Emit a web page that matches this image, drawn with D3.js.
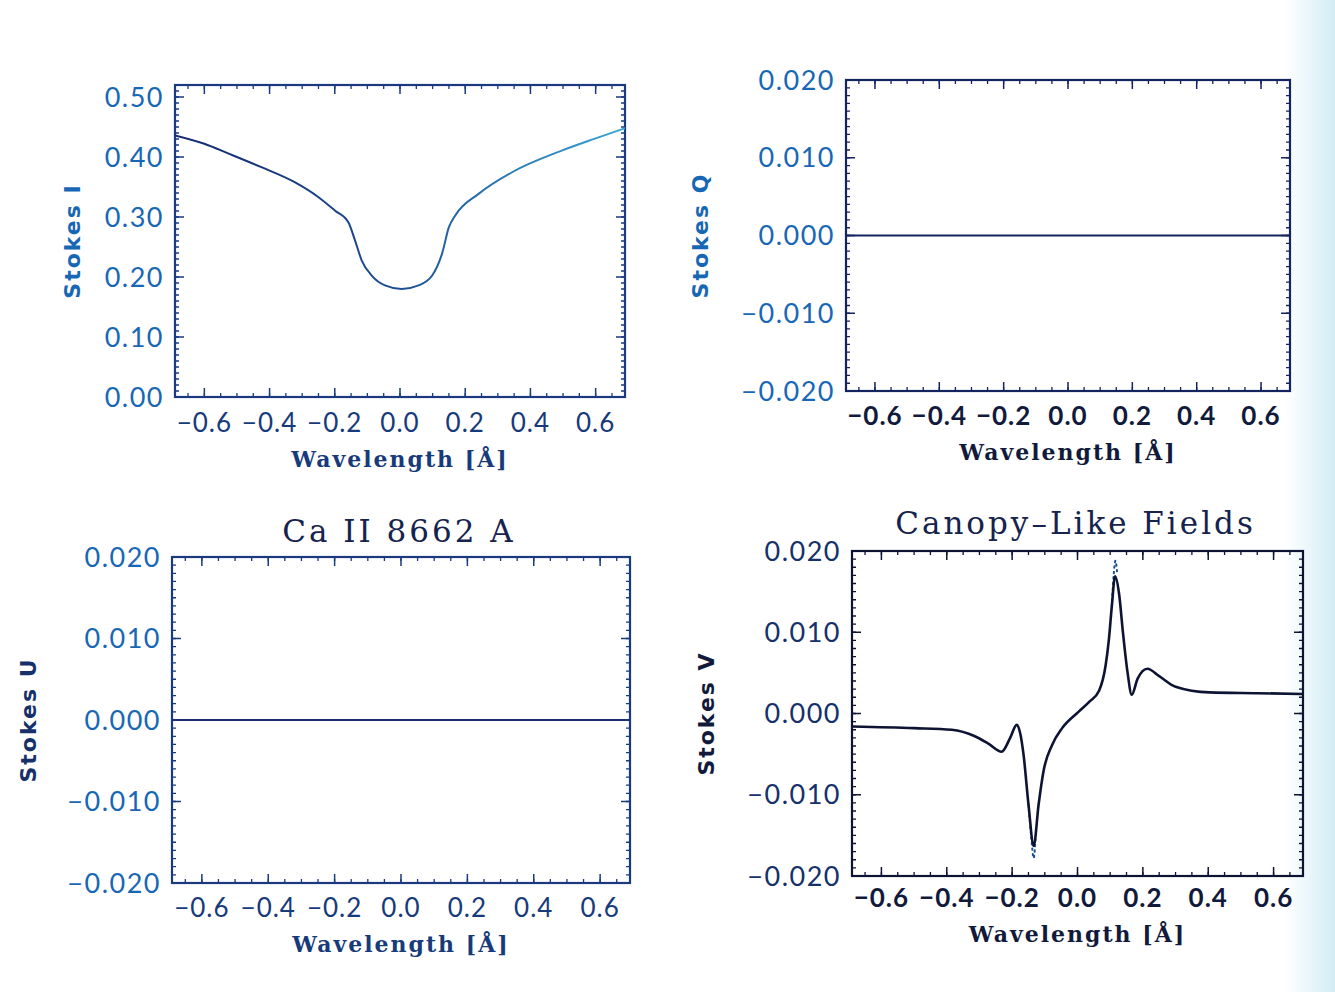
<!DOCTYPE html>
<html>
<head>
<meta charset="utf-8">
<script src="https://cdn.jsdelivr.net/npm/d3@7"></script>
<style>
  body { margin: 0; background: #fff; }
  svg { display: block; }
</style>
</head>
<body>
<svg id="chart" width="1335" height="992"></svg>
<script>
// Ca II 8662 A, canopy-like fields: Stokes profiles
const xTicks = [-0.6, -0.4, -0.2, 0.0, 0.2, 0.4, 0.6];
const iTicks = [0.0, 0.1, 0.2, 0.3, 0.4, 0.5];
const pTicks = [-0.02, -0.01, 0.0, 0.01, 0.02];

// Stokes I
const iWave = [-0.69, -0.6, -0.527, -0.425, -0.323, -0.25, -0.2, -0.158, -0.138, -0.117, -0.086, -0.046, 0.005, 0.057, 0.098, 0.129, 0.15, 0.17, 0.242, 0.345, 0.498, 0.6, 0.69];
const iVals = [0.436, 0.422, 0.406, 0.383, 0.358, 0.333, 0.311, 0.291, 0.261, 0.227, 0.202, 0.186, 0.180, 0.186, 0.202, 0.239, 0.283, 0.303, 0.339, 0.375, 0.411, 0.431, 0.448];

// Stokes Q and U (flat)
const qWave = [-0.69, 0.69];
const qVals = [0.0, 0.0];
const uWave = [-0.69, 0.69];
const uVals = [0.0, 0.0];

// Stokes V (solid)
const vWave = [-0.69, -0.5, -0.385, -0.314, -0.273, -0.232, -0.206, -0.186, -0.175, -0.165, -0.15, -0.134, -0.119, -0.104, -0.078, -0.047, 0.003, 0.035, 0.066, 0.086, 0.096, 0.105, 0.115, 0.127, 0.139, 0.153, 0.166, 0.184, 0.214, 0.25, 0.30, 0.404, 0.55, 0.69];
const vVals = [-0.0016, -0.0018, -0.0020, -0.0028, -0.0037, -0.0047, -0.0030, -0.0014, -0.0025, -0.0051, -0.0112, -0.0163, -0.0112, -0.0071, -0.0039, -0.0018, 0.0002, 0.0014, 0.0028, 0.0059, 0.0091, 0.0132, 0.0169, 0.0148, 0.0100, 0.0051, 0.0023, 0.0043, 0.0055, 0.0046, 0.0033, 0.0026, 0.0025, 0.0024];

// Stokes V (dotted, only where it departs from the solid)
const vDotWaveA = [-0.15, -0.142, -0.134, -0.128];
const vDotValsA = [-0.0112, -0.0150, -0.0178, -0.0150];
const vDotWaveB = [0.105, 0.111, 0.116, 0.122];
const vDotValsB = [0.0132, 0.0172, 0.0188, 0.0170];

const svg = d3.select("#chart");

// faint scan tint on the right edge
const defs = svg.append("defs");
const tint = defs.append("linearGradient").attr("id", "tint").attr("x1", 0).attr("x2", 1);
tint.append("stop").attr("offset", "0").attr("stop-color", "#ffffff");
tint.append("stop").attr("offset", "1").attr("stop-color", "#d2ecf4");
svg.append("rect").attr("x", 1285).attr("y", 0).attr("width", 50).attr("height", 992).attr("fill", "url(#tint)");

const iGrad = defs.append("linearGradient").attr("id", "igrad").attr("x1", 0).attr("x2", 1);
iGrad.append("stop").attr("offset", "0").attr("stop-color", "#14286e");
iGrad.append("stop").attr("offset", "0.5").attr("stop-color", "#1d4f96");
iGrad.append("stop").attr("offset", "1").attr("stop-color", "#3aa6d2");

const panels = [
  { box: [175, 85, 625, 397], ydom: [0, 0.52], yticks: iTicks, yminor: 0.01, yfmt: ".2f",
    ytitle: "Stokes I", title: "", series: [{ x: iWave, y: iVals, stroke: "url(#igrad)", width: 2 }],
    tickCol: "#1867b4", xCol: "#173a7a", titleCol: "#1867b4", axCol: "#1a3a80", ytx: 72, xlab: 432, xtit: 467 },
  { box: [846, 80, 1290, 391], ydom: [-0.02, 0.02], yticks: pTicks, yminor: 0.001, yfmt: ".3f",
    ytitle: "Stokes Q", title: "", series: [{ x: qWave, y: qVals, stroke: "#14245e", width: 2 }],
    tickCol: "#1867b4", xCol: "#111a3a", titleCol: "#1867b4", axCol: "#14245e", ytx: 700, xlab: 425, xtit: 460 },
  { box: [172, 557, 630, 883], ydom: [-0.02, 0.02], yticks: pTicks, yminor: 0.001, yfmt: ".3f",
    ytitle: "Stokes U", title: "Ca II 8662 A", series: [{ x: uWave, y: uVals, stroke: "#1a2e78", width: 2 }],
    tickCol: "#1867b4", xCol: "#173a7a", titleCol: "#17306a", axCol: "#1a3a80", ytx: 28, xlab: 917, xtit: 952, ttl: 531 },
  { box: [852, 551, 1303, 876], ydom: [-0.02, 0.02], yticks: pTicks, yminor: 0.001, yfmt: ".3f",
    ytitle: "Stokes V", title: "Canopy\u2013Like Fields",
    series: [
      { x: vDotWaveA, y: vDotValsA, stroke: "#1d4f96", width: 2, dash: "1.5,4" },
      { x: vDotWaveB, y: vDotValsB, stroke: "#1d4f96", width: 2, dash: "1.5,4" },
      { x: vWave, y: vVals, stroke: "#0d1433", width: 2.6 }
    ],
    tickCol: "#15306a", xCol: "#111a3a", titleCol: "#111a3a", axCol: "#0d1433", ytx: 706, xlab: 907, xtit: 942, ttl: 523 }
];

const fmtX = d3.format(".1f");

panels.forEach((p, k) => {
  const [x0, y0, x1, y1] = p.box;
  const x = d3.scaleLinear().domain([-0.69, 0.69]).range([x0, x1]);
  const y = d3.scaleLinear().domain(p.ydom).range([y1, y0]);
  const g = svg.append("g");

  const clipId = "clip" + k;
  defs.append("clipPath").attr("id", clipId)
    .append("rect").attr("x", x0).attr("y", y0 - 20).attr("width", x1 - x0).attr("height", y1 - y0 + 40);

  // ticks on all four sides, IDL style (inward)
  const xMinor = d3.range(-0.65, 0.66, 0.05);
  const yMinor = d3.range(p.ydom[0], p.ydom[1] + p.yminor / 2, p.yminor);

  g.selectAll(".xmaj").data(xTicks).join("path")
    .attr("d", d => `M${x(d)},${y1}v-9M${x(d)},${y0}v9`)
    .attr("stroke", p.axCol).attr("stroke-width", 1.5);
  g.selectAll(".xmin").data(xMinor).join("path")
    .attr("d", d => `M${x(d)},${y1}v-4M${x(d)},${y0}v4`)
    .attr("stroke", p.axCol).attr("stroke-width", 1.3);
  g.selectAll(".ymaj").data(p.yticks).join("path")
    .attr("d", d => `M${x0},${y(d)}h9M${x1},${y(d)}h-9`)
    .attr("stroke", p.axCol).attr("stroke-width", 1.5);
  g.selectAll(".ymin").data(yMinor).join("path")
    .attr("d", d => `M${x0},${y(d)}h4M${x1},${y(d)}h-4`)
    .attr("stroke", p.axCol).attr("stroke-width", 1.3);

  g.append("rect")
    .attr("x", x0).attr("y", y0).attr("width", x1 - x0).attr("height", y1 - y0)
    .attr("fill", "none").attr("stroke", p.axCol).attr("stroke-width", 2.2);

  // tick labels
  g.selectAll(".xl").data(xTicks).join("text")
    .attr("x", d => x(d)).attr("y", p.xlab)
    .attr("text-anchor", "middle")
    .attr("font-family", "Lato, 'Noto Sans', sans-serif")
    .attr("font-weight", k % 2 ? 700 : 400)
    .attr("font-size", 26).attr("letter-spacing", 1)
    .attr("fill", p.xCol)
    .text(d => fmtX(d));

  g.selectAll(".yl").data(p.yticks).join("text")
    .attr("x", x0 - 11).attr("y", d => y(d)).attr("dy", "0.36em")
    .attr("text-anchor", "end")
    .attr("font-family", "Lato, 'Noto Sans', sans-serif")
    .attr("font-weight", 400)
    .attr("font-size", 27).attr("letter-spacing", 1.5)
    .attr("fill", p.tickCol)
    .text(d => d3.format(p.yfmt)(d));

  // axis titles
  g.append("text")
    .attr("x", (x0 + x1) / 2).attr("y", p.xtit)
    .attr("text-anchor", "middle")
    .attr("font-family", "'DejaVu Serif', serif").attr("font-weight", "bold")
    .attr("font-size", 22).attr("letter-spacing", 2)
    .attr("fill", p.xCol)
    .text("Wavelength [\u00c5]");

  g.append("text")
    .attr("transform", `translate(${p.ytx},${(y0 + y1) / 2}) rotate(-90)`)
    .attr("text-anchor", "middle").attr("dy", "0.35em")
    .attr("font-family", "'DejaVu Sans', sans-serif").attr("font-weight", "bold")
    .attr("font-size", 22).attr("letter-spacing", 2)
    .attr("fill", p.titleCol)
    .text(p.ytitle);

  if (p.title) {
    g.append("text")
      .attr("x", (x0 + x1) / 2 - 2).attr("y", p.ttl).attr("dy", "0.35em")
      .attr("text-anchor", "middle")
      .attr("font-family", "'DejaVu Serif', serif")
      .attr("font-size", 31).attr("letter-spacing", 3)
      .attr("fill", "#15234e")
      .text(p.title);
  }

  // curves
  const line = d3.line().curve(d3.curveMonotoneX);
  p.series.forEach(s => {
    g.append("path")
      .attr("clip-path", `url(#${clipId})`)
      .attr("d", line(s.x.map((w, i) => [x(w), y(s.y[i])])))
      .attr("fill", "none")
      .attr("stroke", s.stroke)
      .attr("stroke-width", s.width)
      .attr("stroke-linecap", "round")
      .attr("stroke-dasharray", s.dash || null);
  });
});
</script>
</body>
</html>
